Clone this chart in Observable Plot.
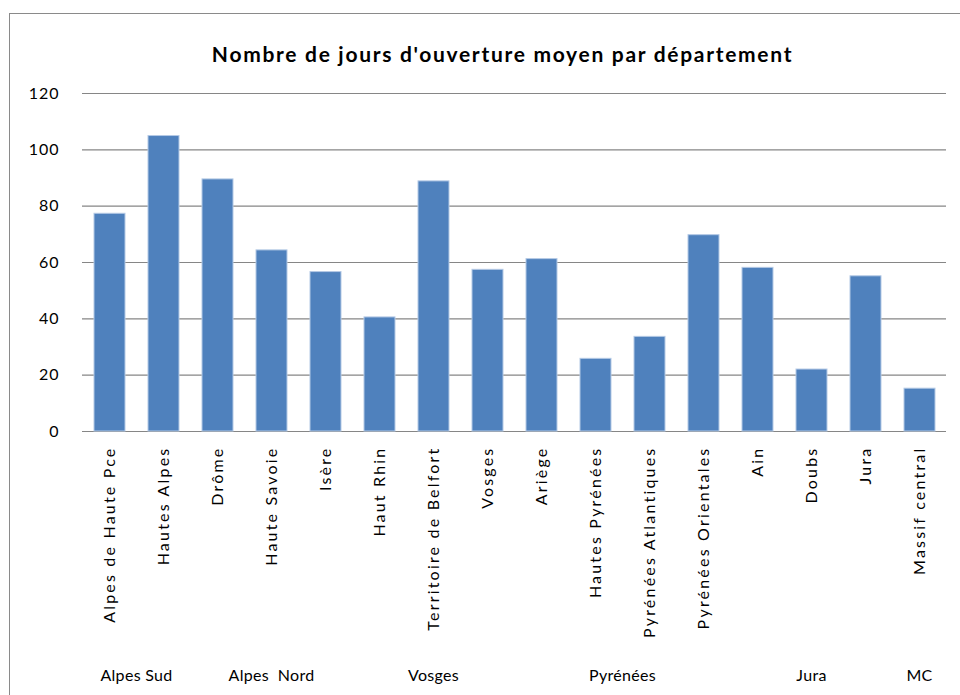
<!DOCTYPE html>
<html>
<head>
<meta charset="utf-8">
<script src="https://cdn.jsdelivr.net/npm/d3@7"></script>
<script src="https://cdn.jsdelivr.net/npm/@observablehq/plot@0.6"></script>
<style>
  html, body { margin: 0; padding: 0; background: #fff; }
  #wrap { position: relative; width: 960px; height: 695px; overflow: hidden; }
  #border { position: absolute; left: 9px; top: 13px; width: 1200px; height: 1000px; border: 1px solid #8a8a8a; pointer-events: none; }
</style>
</head>
<body>
<div id="wrap"><div id="border"></div></div>
<script>
const title = "Nombre de jours d'ouverture moyen par département";
const categories = ["Alpes de Haute Pce", "Hautes Alpes", "Drôme", "Haute Savoie", "Isère", "Haut Rhin", "Territoire de Belfort", "Vosges", "Ariège", "Hautes Pyrénées", "Pyrénées Atlantiques", "Pyrénées Orientales", "Ain", "Doubs", "Jura", "Massif central"];
const values = [77.3, 104.9, 89.5, 64.3, 56.6, 40.5, 88.8, 57.4, 61.2, 25.8, 33.6, 69.7, 58.1, 22.0, 55.1, 15.2];
const yTicks = [0, 20, 40, 60, 80, 100, 120];
const groupNames = ["Alpes Sud", "Alpes  Nord", "Vosges", "Pyrénées", "Jura", "MC"];
const groupFirst = ["Alpes de Haute Pce", "Drôme", "Haut Rhin", "Ariège", "Ain", "Massif central"];
const groupLast = ["Hautes Alpes", "Isère", "Vosges", "Pyrénées Orientales", "Jura", "Massif central"];

const data = categories.map((c, i) => ({cat: c, value: values[i]}));

const chart = Plot.plot({
  width: 960,
  height: 695,
  marginLeft: 82,
  marginRight: 14,
  marginTop: 93,
  marginBottom: 264,
  style: {fontFamily: "Lato, 'Open Sans', sans-serif", fontSize: "16px", background: "transparent", color: "#000"},
  x: {domain: categories, paddingInner: 0.43, paddingOuter: 0.19, label: null},
  y: {domain: [0, 120], label: null},
  marks: [
    Plot.gridY(yTicks, {stroke: "#868686", strokeOpacity: 1, strokeWidth: 1.2}),
    Plot.barY(data, {x: "cat", y: "value", fill: "#4F81BD", stroke: "#B4C9E5", strokeWidth: 1}),
    Plot.axisY(yTicks, {tickSize: 0, tickPadding: 23, fontSize: 16, label: null}),
    Plot.axisX({tickSize: 0, tickRotate: -90, tickPadding: 15, fontSize: 16, label: null}),
    Plot.text([title], {frameAnchor: "top", dy: -46, dx: -12, fontWeight: "bold", fontSize: 21})
  ]
});

const svg = d3.select(chart);
svg.selectAll("g[aria-label='x-axis tick label'] text").attr("letter-spacing", "2.2px");
svg.selectAll("g[aria-label='y-axis tick label'] text").attr("letter-spacing", "1px");
svg.selectAll("g[aria-label='text'] text").attr("letter-spacing", "1.7px");

const xs = chart.scale("x");
const g = svg.append("g").attr("font-size", 16).attr("text-anchor", "middle").attr("letter-spacing", "0.3px");
groupNames.forEach((name, i) => {
  const cx = (xs.apply(groupFirst[i]) + xs.apply(groupLast[i]) + xs.bandwidth) / 2;
  g.append("text").attr("x", cx).attr("y", 681).text(name);
});

document.getElementById("wrap").prepend(chart);
</script>
</body>
</html>
